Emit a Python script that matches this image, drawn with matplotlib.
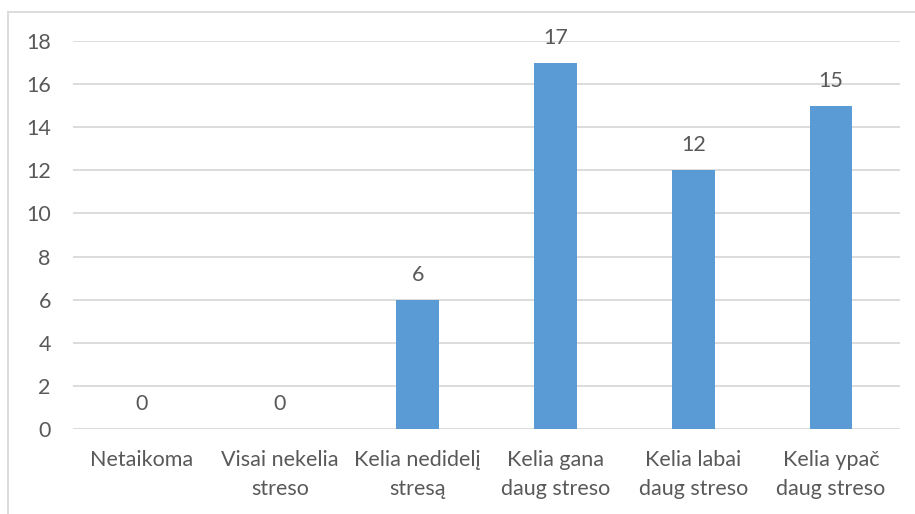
import numpy as np
import matplotlib.pyplot as plt
from matplotlib.lines import Line2D

categories = ["Netaikoma", "Visai nekelia\nstreso", "Kelia nedidelį\nstresą",
              "Kelia gana\ndaug streso", "Kelia labai\ndaug streso", "Kelia ypač\ndaug streso"]
values = [0, 0, 6, 17, 12, 15]
yticks = [0, 2, 4, 6, 8, 10, 12, 14, 16, 18]

bar_color = "#5B9BD5"
text_color = "#595959"
grid_color = "#D9D9D9"

plt.rcParams['font.family'] = ['Lato', 'DejaVu Sans']
fsize = 15.5

fig = plt.figure(figsize=(9.15, 5.14), dpi=100)
ax = fig.add_axes([0.0798, 0.1654, 0.9038, 0.7548])

x = np.arange(len(categories))
bars = ax.bar(x, values, width=0.31, color=bar_color, zorder=3)

for xi, v in zip(x, values):
    ax.annotate(str(v), (xi, v), xytext=(0, 18), textcoords="offset points",
                ha="center", va="center", fontsize=fsize, color=text_color)

ax.set_xlim(-0.5, len(categories) - 0.5)
ax.set_ylim(0, 18)
ax.set_yticks(yticks)
ax.set_xticks(x)
ax.set_xticklabels(categories, linespacing=1.55)
ax.tick_params(axis="both", length=0, labelsize=fsize, labelcolor=text_color)
ax.tick_params(axis="x", pad=15)
ax.tick_params(axis="y", pad=16)
ax.grid(axis="y", color=grid_color, linewidth=1.3, zorder=0)
for s in ax.spines.values():
    s.set_visible(False)

# chart area frame (top and left edges)
fig.add_artist(Line2D([8 / 915, 1.0], [1 - 12 / 514, 1 - 12 / 514], color=grid_color, lw=1.3))
fig.add_artist(Line2D([8 / 915, 8 / 915], [0, 1 - 12 / 514], color=grid_color, lw=1.3))

fig.savefig("out.png", dpi=100)
